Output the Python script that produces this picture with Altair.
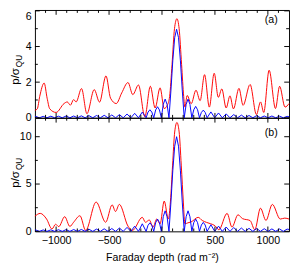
import altair as alt
import pandas as pd

FONT = "Liberation Sans"

# ---------------- panel (a) ----------------
red_a_x = [-1200, -1178, -1155, -1113, -1085, -1060, -1000, -925, -895, -865, -835, -811, -760, -709,
           -640, -590, -529, -486, -432, -380, -321, -276, -222, -162, -110, -65, -18, 21, 50, 72, 95,
           118, 141, 162, 185, 205, 216, 238, 276, 321, 360, 402, 447, 493, 532, 565, 606, 642, 675,
           727, 766, 832, 892, 931, 961, 1012, 1072, 1111, 1162, 1200]
red_a_y = [0.42, 0.5, 1.2, 1.95, 1.1, 0.5, 0.3, 0.8, 0.89, 0.71, 1.02, 0.89, 1.64, 0.23,
           1.58, 0.88, 2.35, 1.1, 0.8, 1.4, 1.98, 1.3, 1.84, 0.06, 1.77, 0.55, 1.68, 0.52, 0.7, 1.2, 3.0,
           5.0, 5.56, 5.0, 3.0, 1.2, 0.6, 1.25, 0.79, 1.55, 0.96, 2.42, 0.6, 2.5, 1.15, 1.62, 0.55, 1.23, 0.5,
           1.65, 0.7, 1.87, 0.18, 0.89, 0.3, 2.67, 0.52, 1.77, 0.6, 0.8]

blue_x = [-1200, -1194, -1158, -1122, -1086, -1050, -1014, -978, -942, -906, -870, -834, -798, -762,
          -726, -690, -654, -618, -582, -546, -510, -474, -438, -402, -366, -330, -294, -258, -222,
          -186, -150, -132, -114, -96, -78, -60, -42, -24, -6, 12, 30, 48, 66, 84, 102, 120, 138, 156,
          174, 192, 210, 228, 246, 264, 282, 300, 318, 336, 354, 372, 390, 408, 426, 462, 498, 534,
          570, 606, 642, 678, 714, 750, 786, 822, 858, 894, 930, 966, 1002, 1038, 1074, 1110, 1146,
          1182, 1200]
blue_a_y = [0.07, 0.08, 0, 0.08, 0, 0.09, 0, 0.09, 0, 0.1, 0, 0.1, 0, 0.11,
            0, 0.12, 0, 0.13, 0, 0.14, 0, 0.16, 0, 0.18, 0, 0.21, 0, 0.25, 0,
            0.32, 0, 0.32, 0.45, 0.32, 0, 0.44, 0.62, 0.44, 0, 0.75, 1.05, 0.75, 0, 1.5, 3.2, 4.5, 4.97, 4.5,
            3.2, 1.5, 0, 0.75, 1.05, 0.75, 0, 0.45, 0.64, 0.45, 0, 0.3, 0.43, 0.3, 0, 0.33, 0, 0.27,
            0, 0.22, 0, 0.18, 0, 0.15, 0, 0.13, 0, 0.12, 0, 0.1, 0, 0.1, 0, 0.09, 0,
            0.08, 0.06]

# ---------------- panel (b) ----------------
red_b_x = [-1200, -1150, -1090, -1039, -1005, -975, -919, -870, -835, -775, -721, -622, -532, -471,
           -439, -403, -321, -279, -186, -156, -120, -84, -50, -18, 21, 60, 80, 100, 120, 141, 162,
           182, 202, 216, 245, 275, 342, 380, 420, 460, 500, 537, 615, 661, 718, 760, 832, 877, 930,
           982, 1042, 1117, 1160, 1200]
red_b_y = [1.6, 1.9, 1.3, 0.25, 0.75, 0.5, 1.55, 0.52, 0.96, 1.65, 0.1, 3.1, 0.96, 2.8,
           2.1, 2.85, 0.55, 0.1, 1.48, 0.96, 1.2, 0.45, 1.3, 0.79, 3.2, 1.3, 3.2, 7.0, 10.5, 11.5, 10.5,
           7.0, 3.0, 0.8, 0.9, 1.0, 1.48, 1.15, 0.95, 0.8, 0.6, 0.17, 1.9, 0.45, 1.75, 1.35, 1.14, 0.17, 2.45,
           1.15, 2.85, 1.3, 1.4, 1.3]

blue_b_y = [0.13, 0.15, 0, 0.15, 0, 0.16, 0, 0.17, 0, 0.18, 0, 0.19, 0, 0.2,
            0, 0.22, 0, 0.24, 0, 0.27, 0, 0.3, 0, 0.35, 0, 0.42, 0, 0.55, 0,
            0.8, 0, 0.64, 0.9, 0.64, 0, 0.92, 1.3, 0.92, 0, 1.55, 2.17, 1.55, 0, 3.0, 6.4, 9.0, 10.0, 9.0,
            6.4, 3.0, 0, 1.55, 2.17, 1.55, 0, 0.92, 1.3, 0.92, 0, 0.67, 0.95, 0.67, 0, 0.7, 0, 0.55,
            0, 0.46, 0, 0.4, 0, 0.35, 0, 0.32, 0, 0.3, 0, 0.28, 0, 0.26, 0, 0.25, 0,
            0.24, 0.2]

# ---------------- ticks ----------------
x_major = [-1000, -500, 0, 500, 1000]
x_minor = [-1100, -900, -800, -700, -600, -400, -300, -200, -100,
           100, 200, 300, 400, 600, 700, 800, 900, 1100]
ya_major = [0, 2, 4, 6]
ya_minor = [1, 3, 5]
yb_major = [0, 5, 10]
yb_minor = [2.5, 7.5]

W = 264
HA = 112
HB = 118
MAJ = 5
MIN = 3

xs = alt.Scale(domain=[-1200, 1200], nice=False, zero=False)


def panel(rx, ry, bx, by, ymax, ymaj, ymin, tag, tag_y, height, bottom, ty_main, ty_sub, top_val):
    ys = alt.Scale(domain=[0, ymax], nice=False, zero=False)
    if bottom:
        xaxis = alt.Axis(values=x_major, format="d", ticks=False, tickSize=0, domain=False,
                         grid=False, labelFlush=False,
                         labelFont=FONT, labelFontSize=11, labelColor="black", labelPadding=4,
                         title="Faraday depth (rad m⁻²)", titleFont=FONT, titleFontSize=11,
                         titleFontWeight="normal", titleColor="black", titlePadding=6)
    else:
        xaxis = None
    yaxis = alt.Axis(values=ymaj, format="d", ticks=False, tickSize=0, domain=False, grid=False,
                     labelFlush=False,
                     labelBaseline={"condition": {"test": f"datum.value >= {top_val}", "value": "top"},
                                    "value": "middle"},
                     labelFont=FONT, labelFontSize=11, labelColor="black", labelPadding=4,
                     title=None)

    X = lambda f: alt.X(f, scale=xs, axis=xaxis)
    Y = lambda f: alt.Y(f, scale=ys, axis=yaxis)

    red = alt.Chart(pd.DataFrame({"x": rx, "y": ry})).mark_line(
        color="#ff0000", strokeWidth=1, strokeJoin="round", interpolate="monotone").encode(
        x=X("x:Q"), y=Y("y:Q"))
    blue = alt.Chart(pd.DataFrame({"x": bx, "y": by})).mark_line(
        color="#0000ff", strokeWidth=1, strokeJoin="round").encode(
        x=X("x:Q"), y=Y("y:Q"))

    def xticks(vals, ln):
        d = pd.DataFrame({"v": vals})
        bot = alt.Chart(d).mark_rule(color="black", strokeWidth=1).encode(
            x=X("v:Q"), y=alt.value(height), y2=alt.value(height - ln))
        top = alt.Chart(d).mark_rule(color="black", strokeWidth=1).encode(
            x=X("v:Q"), y=alt.value(0), y2=alt.value(ln))
        return [bot, top]

    def yticks(vals, ln):
        d = pd.DataFrame({"v": vals})
        left = alt.Chart(d).mark_rule(color="black", strokeWidth=1).encode(
            y=Y("v:Q"), x=alt.value(0), x2=alt.value(ln))
        right = alt.Chart(d).mark_rule(color="black", strokeWidth=1).encode(
            y=Y("v:Q"), x=alt.value(W), x2=alt.value(W - ln))
        return [left, right]

    tagmark = alt.Chart(pd.DataFrame({"t": [tag]})).mark_text(
        font=FONT, fontSize=11, color="black", align="center", baseline="middle").encode(
        x=alt.value(W - 18.5), y=alt.value(tag_y), text="t:N")
    tmain = alt.Chart(pd.DataFrame({"t": ["p/σ"]})).mark_text(
        font=FONT, fontSize=12, color="black", align="center",
        baseline="alphabetic", angle=270).encode(
        x=alt.value(-17), y=alt.value(ty_main), text="t:N")
    tsub = alt.Chart(pd.DataFrame({"t": ["QU"]})).mark_text(
        font=FONT, fontSize=8.5, color="black", align="center",
        baseline="alphabetic", angle=270).encode(
        x=alt.value(-13.5), y=alt.value(ty_sub), text="t:N")

    layers = [red, blue] + xticks(x_major, MAJ) + xticks(x_minor, MIN) + \
        yticks(ymaj, MAJ) + yticks(ymin, MIN) + [tagmark, tmain, tsub]
    return alt.layer(*layers).properties(width=W, height=height)


pa = panel(red_a_x, red_a_y, blue_x, blue_a_y, 6.05, ya_major, ya_minor, "(a)", 10,
           HA, False, 69, 53, 6)
pb = panel(red_b_x, red_b_y, blue_x, blue_b_y, 12, yb_major, yb_minor, "(b)", 15.5,
           HB, True, 64, 48, 12)

chart = alt.vconcat(pa, pb, spacing=0, bounds="flush").properties(
    padding={"left": 0, "top": -4, "right": 0, "bottom": 0}, background="white"
).configure_view(stroke="black", strokeWidth=1)

chart.save("out.html", embed_options={"renderer": "svg", "actions": False})
